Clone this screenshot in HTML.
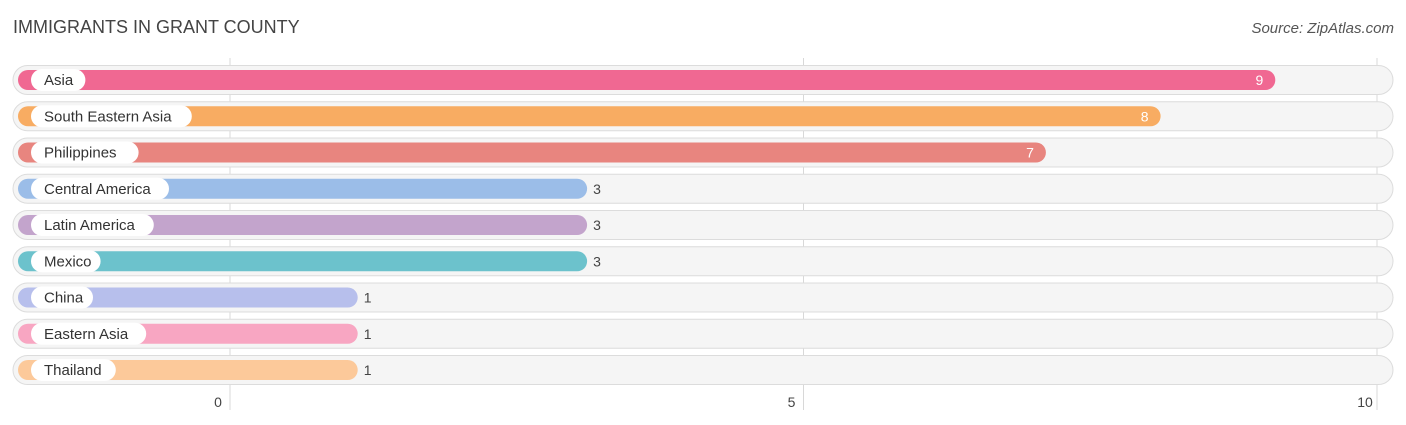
<!DOCTYPE html>
<html><head><meta charset="utf-8"><style>
html,body{margin:0;padding:0;background:#fff;width:1406px;height:425px;overflow:hidden;font-family:"Liberation Sans",sans-serif}
</style></head><body>
<svg id="chart" width="1406" height="425" xmlns="http://www.w3.org/2000/svg" font-family="Liberation Sans, sans-serif">
<text x="13" y="33" font-size="18" fill="#444">IMMIGRANTS IN GRANT COUNTY</text>
<text x="1394" y="33" font-size="15" fill="#555" text-anchor="end" font-style="italic">Source: ZipAtlas.com</text>
<g id="grid"></g><g id="rows"></g><g id="ticks"></g>
</svg>
<script>
const categories=["Asia","South Eastern Asia","Philippines","Central America","Latin America","Mexico","China","Eastern Asia","Thailand"];
const values=[9,8,7,3,3,3,1,1,1];
const colors=["#f06892","#f8ac62","#e8857f","#9bbde8","#c3a4cc","#6cc2cc","#b7bfec","#f8a6c2","#fcc99a"];
const tickValues=[0,5,10];
const NS="http://www.w3.org/2000/svg";
const x0=230,scale=114.7;
const xs=v=>x0+v*scale;
const rowY=i=>80+i*36.25;
function mk(tag,attrs,parent,text){const e=document.createElementNS(NS,tag);for(const k in attrs)e.setAttribute(k,attrs[k]);if(text!==undefined)e.textContent=text;parent.appendChild(e);return e;}
const grid=document.getElementById('grid'),rows=document.getElementById('rows'),ticks=document.getElementById('ticks');
categories.forEach((c,i)=>{
  const y=rowY(i);
  const t=mk('rect',{x:13,y:y-14.5,width:1380,height:29,rx:14.5,fill:'#f5f5f5',stroke:'#dcdcdc','stroke-width':1},rows);
  
  
});
tickValues.forEach(v=>{
  const l=mk('line',{x1:xs(v),x2:xs(v),y1:58,y2:410,stroke:'#d8d8d8','stroke-width':1},grid);
  
  
  const t=mk('text',{x:xs(v)-12,y:407,'font-size':14,fill:'#444','text-anchor':'middle'},ticks,String(v));
  
  
});
categories.forEach((c,i)=>{
  const y=rowY(i),v=values[i];
  const end=xs(v)+13;
  const b=mk('rect',{x:18,y:y-10,width:end-18,height:20,rx:10,fill:colors[i]},rows);
  
  
  const w=c.length*7.6+24;
  const p=mk('rect',{x:31,y:y-11,width:w,height:22,rx:11,fill:'#fff'},rows);
  
  
  const lt=mk('text',{x:44,y:y+5,'font-size':15,fill:'#333'},rows,c);
  
  
  const inside=v>=5;
  const vt=mk('text',{x:inside?end-12:end+6,y:y+5,'font-size':14,fill:inside?'#fff':'#444','text-anchor':inside?'end':'start'},rows,String(v));
  
  
});
</script>
</body></html>
